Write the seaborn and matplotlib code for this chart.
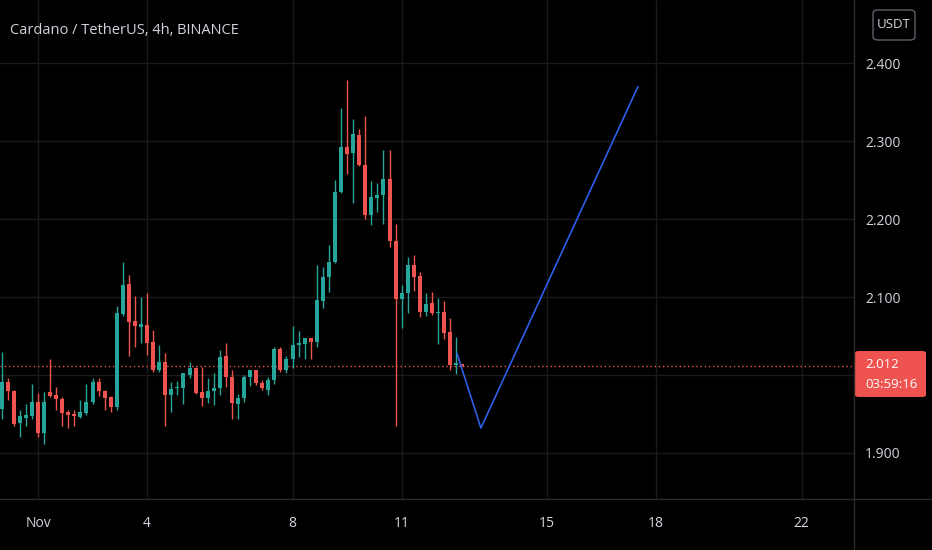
import numpy as np
import pandas as pd
import matplotlib
matplotlib.use('Agg')
import matplotlib.pyplot as plt
from matplotlib import font_manager
from matplotlib.lines import Line2D
from matplotlib.patches import FancyBboxPatch
import seaborn as sns

# 4h candles, first one is Oct 31 00:00 (day -1 relative to Nov 1)
opens = [1.957, 1.991, 1.980, 1.938, 1.945, 1.948, 1.966, 1.926, 1.978, 1.975,
         1.969, 1.953, 1.950, 1.946, 1.951, 1.965, 1.991, 1.980, 1.972, 1.959,
         2.078, 2.117, 2.069, 2.062, 2.064, 2.043, 2.006, 2.017, 1.974, 1.983,
         1.984, 2.000, 2.009, 1.978, 1.970, 1.980, 1.983, 2.024, 1.998, 1.963,
         1.971, 1.997, 2.006, 1.990, 1.981, 1.993, 2.034, 2.007, 2.021, 2.038,
         2.040, 2.047, 2.043, 2.095, 2.126, 2.145, 2.235, 2.293, 2.285, 2.308,
         2.270, 2.205, 2.227, 2.231, 2.252, 2.172, 2.097, 2.105, 2.141, 2.127,
         2.081, 2.092, 2.079, 2.081, 2.055, 2.013, 2.014]
highs = [2.029, 1.996, 1.981, 1.955, 1.963, 1.989, 1.977, 1.978, 2.021, 1.985,
         1.972, 1.955, 1.955, 1.968, 1.988, 1.996, 1.996, 1.981, 1.973, 2.089,
         2.145, 2.128, 2.101, 2.100, 2.105, 2.058, 2.038, 2.028, 1.991, 1.992,
         2.003, 2.017, 2.010, 2.010, 1.996, 2.002, 2.032, 2.041, 2.006, 1.976,
         2.000, 2.007, 2.007, 1.994, 1.998, 2.036, 2.036, 2.024, 2.063, 2.057,
         2.048, 2.048, 2.141, 2.139, 2.167, 2.250, 2.343, 2.379, 2.328, 2.316,
         2.332, 2.249, 2.246, 2.288, 2.288, 2.194, 2.115, 2.151, 2.154, 2.132,
         2.105, 2.107, 2.099, 2.095, 2.073, 2.049, 2.014]
lows = [1.943, 1.968, 1.935, 1.920, 1.935, 1.943, 1.921, 1.912, 1.972, 1.955,
        1.934, 1.932, 1.934, 1.945, 1.949, 1.963, 1.973, 1.955, 1.952, 1.955,
        2.076, 2.024, 2.036, 2.041, 2.026, 2.004, 2.004, 1.935, 1.952, 1.974,
        1.963, 1.996, 1.976, 1.960, 1.964, 1.962, 1.974, 1.985, 1.944, 1.943,
        1.965, 1.986, 1.987, 1.981, 1.974, 1.989, 2.004, 2.003, 2.009, 2.023,
        2.021, 2.021, 2.036, 2.086, 2.107, 2.144, 2.234, 2.258, 2.220, 2.268,
        2.200, 2.192, 2.209, 2.194, 2.164, 1.934, 2.060, 2.079, 2.108, 2.075,
        2.076, 2.077, 2.040, 2.046, 2.006, 2.001, 2.011]
closes = [1.991, 1.979, 1.937, 1.947, 1.949, 1.965, 1.926, 1.966, 1.973, 1.969,
          1.951, 1.949, 1.948, 1.953, 1.965, 1.991, 1.980, 1.971, 1.959, 2.079,
          2.115, 2.068, 2.063, 2.065, 2.041, 2.006, 2.017, 1.974, 1.982, 1.985,
          2.002, 2.009, 1.977, 1.970, 1.980, 1.983, 2.023, 1.998, 1.964, 1.971,
          1.997, 2.006, 1.990, 1.983, 1.994, 2.034, 2.006, 2.021, 2.038, 2.041,
          2.047, 2.043, 2.096, 2.126, 2.145, 2.235, 2.292, 2.284, 2.309, 2.270,
          2.205, 2.228, 2.231, 2.252, 2.172, 2.097, 2.105, 2.141, 2.126, 2.081,
          2.091, 2.079, 2.081, 2.054, 2.013, 2.015, 2.012]

# drawn projection path
proj_days = [11.52, 12.18, 16.50]
proj_price = [2.028, 1.932, 2.370]

tick_days = [0, 3, 7, 10, 14, 17, 21]
tick_labels = ['Nov', '4', '8', '11', '15', '18', '22']
price_ticks = [1.9, 2.0, 2.1, 2.2, 2.3, 2.4]
price_labels = ['1.900', '', '2.100', '2.200', '2.300', '2.400']  # 2.000 sits under the price tag
last_price = 2.012
countdown = '03:59:16'
title = 'Cardano / TetherUS, 4h, BINANCE'

BG = '#000000'
UP = '#26a69a'
DOWN = '#ef5350'
TXT = '#d1d4dc'
GRID = '#1a1a1a'
SEP = '#2b2b2b'

sns.set_style('dark', {'axes.facecolor': BG, 'figure.facecolor': BG})
plt.rcParams['font.family'] = ['Open Sans', 'DejaVu Sans']

# scale labels use a narrow face when there is one
installed = {f.name for f in font_manager.fontManager.ttflist}
if 'Liberation Sans Narrow' in installed:
    scale_font, scale_size = ['Liberation Sans Narrow', 'DejaVu Sans'], 11.5
else:
    scale_font, scale_size = ['Open Sans', 'DejaVu Sans'], 10

df = pd.DataFrame({'open': opens, 'high': highs, 'low': lows, 'close': closes})
df['day'] = -1 + np.arange(len(df)) / 6
df['up'] = df['close'] >= df['open']
df['bottom'] = df[['open', 'close']].min(axis=1)
df['height'] = (df['close'] - df['open']).abs().clip(lower=0.0015)
colors = np.where(df['up'], UP, DOWN)

W, H = 932, 550
fig = plt.figure(figsize=(W / 100, H / 100), dpi=100)
ax = fig.add_axes([0, 51 / H, 854 / W, 499 / H])

ax.vlines(df['day'], df['low'], df['high'], colors=colors, linewidth=1, zorder=3)
ax.bar(df['day'], df['height'], bottom=df['bottom'], width=0.11,
       color=colors, linewidth=0, zorder=4)

sns.lineplot(x=proj_days, y=proj_price, ax=ax, color='#2f5fe8',
             linewidth=1.2, sort=False, zorder=5)
ax.axhline(last_price, color=DOWN, linestyle=(0, (1, 2)), linewidth=1, zorder=2)

ax.set_xlim(-1.045, 22.44)
ax.set_ylim(1.841, 2.481)
ax.set_xticks(tick_days)
ax.set_xticklabels(tick_labels)
ax.set_yticks(price_ticks)
ax.set_yticklabels(price_labels)
ax.yaxis.tick_right()
ax.grid(True, color=GRID, linewidth=1)
ax.set_axisbelow(True)
ax.tick_params(axis='both', length=0, colors=TXT)
ax.tick_params(axis='y', pad=8)
ax.tick_params(axis='x', pad=12)
for lab in ax.get_xticklabels() + ax.get_yticklabels():
    lab.set_family(scale_font)
    lab.set_size(scale_size)
for s in ax.spines.values():
    s.set_visible(False)
ax.set_xlabel('')
ax.set_ylabel('')

# pane separators
fig.add_artist(Line2D([854 / W, 854 / W], [0, 1], color=SEP, linewidth=1))
fig.add_artist(Line2D([0, 1], [51 / H, 51 / H], color=SEP, linewidth=1))

# title
fig.text(10 / W, 1 - 31 / H, title, color=TXT, fontsize=10.5, va='center', ha='left')

# last price label
fig.add_artist(FancyBboxPatch((855 / W, 1 - 397 / H), 71 / W, 46 / H,
                              boxstyle='round,pad=0,rounding_size=0.004',
                              transform=fig.transFigure, facecolor=DOWN,
                              edgecolor='none'))
fig.text(865 / W, 1 - 365 / H, f'{last_price:.3f}', color='white',
         family=scale_font, fontsize=scale_size - 0.5, va='center', ha='left')
fig.text(865 / W, 1 - 384 / H, countdown, color='white',
         family=scale_font, fontsize=scale_size - 0.5, va='center', ha='left')

# currency box
fig.add_artist(FancyBboxPatch((873 / W, 1 - 40 / H), 42 / W, 30 / H,
                              boxstyle='round,pad=0,rounding_size=0.006',
                              transform=fig.transFigure, facecolor=BG,
                              edgecolor='#5d606b', linewidth=1))
fig.text(894 / W, 1 - 25 / H, 'USDT', color=TXT, family=scale_font,
         fontsize=scale_size - 0.5, va='center', ha='center')

fig.savefig('out.png', dpi=100, facecolor=BG)
